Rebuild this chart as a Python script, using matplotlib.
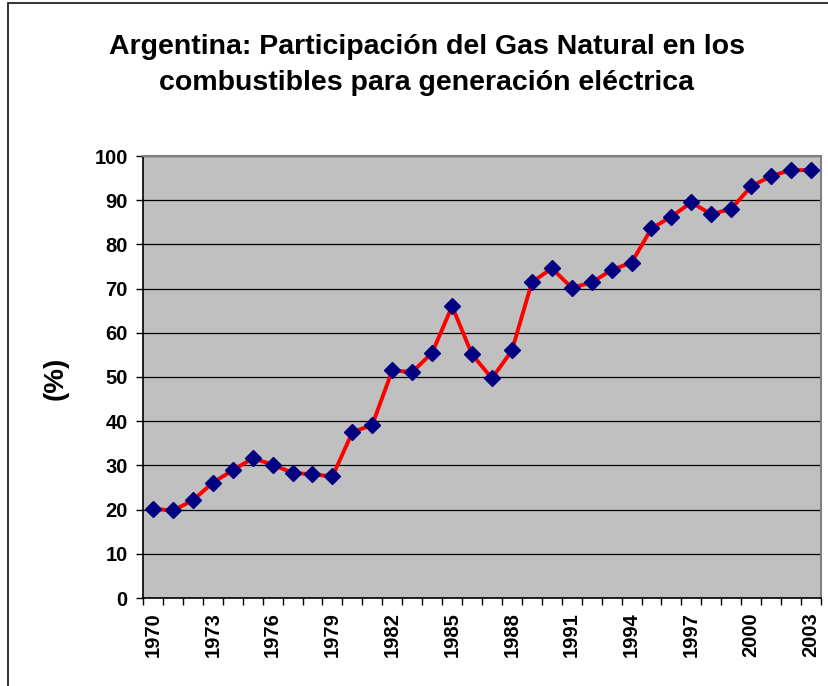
import matplotlib
matplotlib.use("Agg")
import matplotlib.pyplot as plt
from matplotlib.patches import Rectangle

years = list(range(1970, 2004))
share = [20.2, 19.8, 22.1, 26.1, 28.9, 31.6, 30.2, 28.3, 28.0, 27.5,
         37.5, 39.2, 51.5, 51.1, 55.5, 66.0, 55.1, 49.7, 56.0, 71.4,
         74.6, 70.2, 71.4, 74.2, 75.9, 83.6, 86.3, 89.5, 86.8, 88.1,
         93.1, 95.5, 96.8, 96.8]
y_ticks = [0, 10, 20, 30, 40, 50, 60, 70, 80, 90, 100]
title = "Argentina: Participación del Gas Natural en los\ncombustibles para generación eléctrica"
ylabel = "(%)"

plt.rcParams['font.family'] = ['Liberation Sans', 'DejaVu Sans']

fig = plt.figure(figsize=(8.29, 6.86), dpi=100)
ax = fig.add_axes([143/829, (686-598)/686, 678/829, 442/686])
ax.set_facecolor('#C0C0C0')

x = list(range(len(years)))
ax.plot(x, share, color='#FF0000', lw=2.8, marker='D', ms=8,
        mfc='#000080', mec='#000080', zorder=3)

ax.set_xlim(-0.5, len(years) - 0.5)
ax.set_ylim(0, 100)
ax.set_yticks(y_ticks)
ax.set_yticklabels([str(v) for v in y_ticks], fontsize=14.5, fontweight='bold')
ax.yaxis.grid(True, color='black', lw=0.9)
ax.set_axisbelow(True)

# major ticks at category boundaries (marks only), minor ticks at centers (labels)
ax.set_xticks([i - 0.5 for i in range(len(years) + 1)])
ax.set_xticklabels([])
ax.set_xticks(x[::3], minor=True)
ax.set_xticklabels([str(years[i]) for i in x[::3]], minor=True,
                   rotation=90, fontsize=14.5, fontweight='bold')
ax.tick_params(axis='x', which='major', length=5, width=1, direction='out')
ax.tick_params(axis='x', which='minor', length=0, pad=10)
ax.tick_params(axis='y', length=5, width=1, direction='out', pad=6)

for s in ['left', 'bottom']:
    ax.spines[s].set_color('black')
    ax.spines[s].set_linewidth(1.2)
for s in ['top', 'right']:
    ax.spines[s].set_color('#808080')
    ax.spines[s].set_linewidth(1.5)

ax.set_ylabel(ylabel, fontsize=20, fontweight='bold')
ax.yaxis.set_label_coords((69 - 143) / 678, (598 - 378) / 442)

fig.text(0.515, 1 - 65/686, title, ha='center', va='center', fontsize=20.5,
         fontweight='bold', linespacing=1.5)

fig.patches.append(Rectangle((8/829, -0.1), 1.2, 1.1 - 3/686, transform=fig.transFigure,
                             fill=False, edgecolor='#222222', lw=1.3))

fig.savefig('out.png', dpi=100)
